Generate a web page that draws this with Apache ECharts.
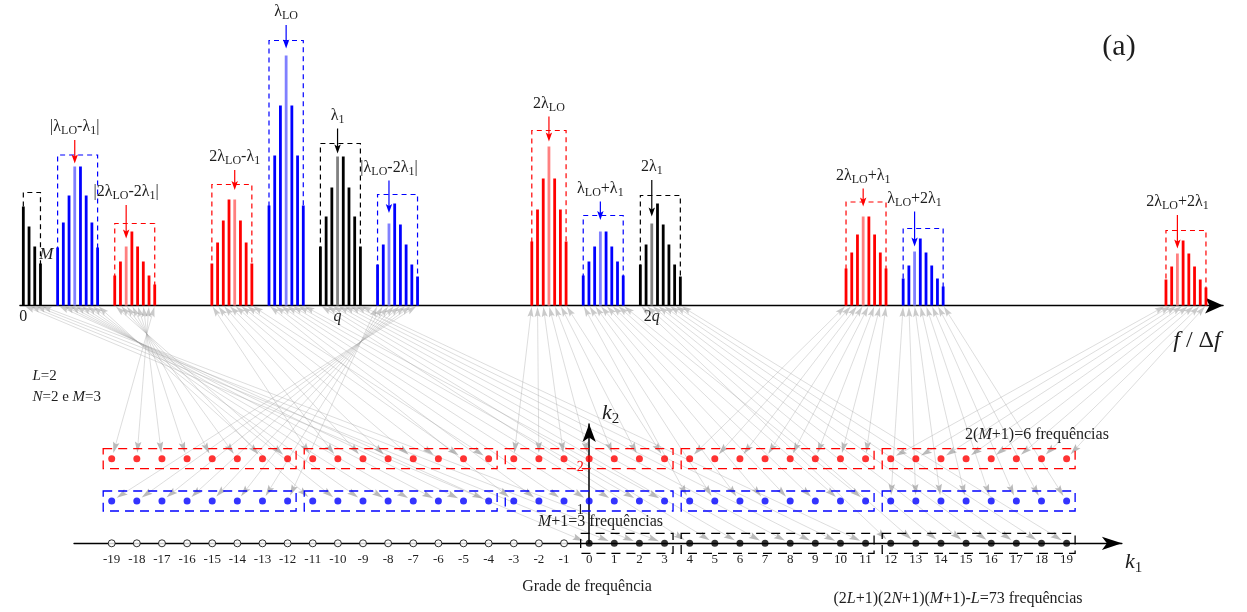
<!DOCTYPE html>
<html>
<head>
<meta charset="utf-8">
<script src="https://cdn.jsdelivr.net/npm/echarts@6.0.0/dist/echarts.min.js"></script>
<style>
html,body{margin:0;padding:0;background:#ffffff;}
#chart{width:1247px;height:612px;}
</style>
</head>
<body>
<div id="chart"></div>
<script>
// ================= DATA =================
// spectral clusters (f / Δf index of first line, labelled line, heights)
const clusterLabels = ['', '|λ{s|LO}-λ{s|1}|', '|2λ{s|LO}-2λ{s|1}|', '2λ{s|LO}-λ{s|1}', 'λ{s|LO}', 'λ{s|1}',
  '|λ{s|LO}-2λ{s|1}|', '2λ{s|LO}', 'λ{s|LO}+λ{s|1}', '2λ{s|1}', '2λ{s|LO}+λ{s|1}', 'λ{s|LO}+2λ{s|1}', '2λ{s|LO}+2λ{s|1}'];
const clusterStart  = [0, 6, 16, 33, 43, 52, 62, 89, 98, 108, 144, 154, 200];
const clusterCenter = [null, 9, 18, 37, 46, 55, 64, 92, 101, 110, 147, 156, 202];

const hDC    = [99, 79, 59, 42];
const hLoM1  = [58, 83, 110, 139, 139, 110, 83, 58];
const h2LoM2 = [30, 44, 59, 74, 59, 44, 30, 21];
const h2LoM1 = [42, 63, 85, 106, 106, 85, 63, 42];
const hLo    = [100, 150, 200, 250, 200, 150, 100];
const h1     = [59, 89, 118, 149, 149, 118, 89, 59];
const hLoM2  = [41, 61, 82, 102, 81, 61, 41, 29];
const h2Lo   = [64, 96, 127, 159, 127, 96, 64];
const hLoP1  = [30, 44, 59, 74, 74, 59, 44, 30];
const h2x1   = [41, 61, 82, 102, 81, 61, 41, 29];
const h2LoP1 = [37, 53, 71, 89, 89, 71, 53, 37];
const hLoP2  = [27, 40, 54, 67, 53, 40, 27, 19];
const h2LoP2 = [26, 39, 52, 65, 52, 39, 26, 18];
const clusterHeights = [hDC, hLoM1, h2LoM2, h2LoM1, hLo, h1, hLoM2, h2Lo, hLoP1, h2x1, h2LoP1, hLoP2, h2LoP2];

// dashed envelope top and annotation arrow (tail / tip) in the same height units
const clusterBoxTop = [113, 150.5, 82, 121, 265, 162, 111, 175, 90, 110, 103.5, 77, 75];
const arrowTail = [null, 165.5, 100.5, 135.5, 280.5, 177, 125, 189, 104, 125.5, 117, 94, 90.5];
const arrowTip  = [null, 142, 67, 115.5, 257, 152, 92.5, 164, 85.5, 89, 99, 59, 57];

// mapping onto the frequency grid (k1, k2)
const clusterK2     = [0, 1, 2, 2, 1, 0, 1, 2, 1, 0, 2, 1, 2];
const clusterK1     = [0, -4, -12, -11, -3, 4, -12, -3, 4, 12, 4, 12, 12];
const clusterK1Step = [1, -1, -1, 1, 1, 1, -1, 1, 1, 1, 1, 1, 1];

const k1TickValues = [-19,-18,-17,-16,-15,-14,-13,-12,-11,-10,-9,-8,-7,-6,-5,-4,-3,-2,-1,0,1,2,3,4,5,6,7,8,9,10,11,12,13,14,15,16,17,18,19];
const unusedK1 = [-19,-18,-17,-16,-15,-14,-13,-12,-11,-10,-9,-8,-7,-6,-5,-4,-3,-2,-1];
const specTickValues = [0, 55, 110];
const specTickLabels = ['0', '{i|q}', '2{i|q}'];
const k2TickValues = [1, 2];

// ================= STYLE =================
const FONT = "'Liberation Serif', 'Times New Roman', serif";
const TXT = '#1e1e1e';
const rowColor = ['#000000', '#0000ff', '#ff0000'];
const rowLight = ['#808080', '#8080ff', '#ff8080'];
const arrowColor = [null, '#ff0000', '#ff0000', '#ff0000', '#0000ff', '#000000', '#0000ff', '#ff0000', '#0000ff', '#000000', '#ff0000', '#0000ff', '#ff0000'];

const chart = echarts.init(document.getElementById('chart'), null, {renderer: 'canvas'});

const barData = [];
const pointData = [];
clusterHeights.forEach((hs, c) => {
  const k2 = clusterK2[c];
  hs.forEach((h, i) => {
    const f = clusterStart[c] + i;
    barData.push({value: [f, h], itemStyle: {color: f === clusterCenter[c] ? rowLight[k2] : rowColor[k2]}});
    pointData.push({value: [clusterK1[c] + clusterK1Step[c] * i, k2], itemStyle: {color: rowColor[k2]}});
  });
});
const specBoxData = clusterStart.map((s, c) => [s, s + clusterHeights[c].length - 1, clusterBoxTop[c], c]);
const annData = [];
clusterCenter.forEach((f, c) => { if (f !== null) annData.push([f, arrowTail[c], arrowTip[c], c]); });
const gridBoxData = clusterStart.map((s, c) => {
  const a = clusterK1[c], b = clusterK1[c] + clusterK1Step[c] * (clusterHeights[c].length - 1);
  return [Math.min(a, b), Math.max(a, b), clusterK2[c]];
});

function richSet(size) {
  return {
    s: {fontSize: size * 0.75, lineHeight: size * 0.75, verticalAlign: 'bottom', fontFamily: FONT, fill: TXT, color: TXT},
    i: {fontSize: size, fontStyle: 'italic', fontFamily: FONT, fill: TXT, color: TXT, lineHeight: size * 1.25}
  };
}

const option = {
  animation: false,
  backgroundColor: '#ffffff',
  grid: [
    {left: 19.9, top: 5.5, width: 1203.2, height: 300, containLabel: false, outerBoundsMode: 'none'},
    {left: 74, top: 424, width: 1047.9, height: 119.3, containLabel: false, outerBoundsMode: 'none'}
  ],
  xAxis: [
    {gridIndex: 0, type: 'value', min: -0.6, max: 210, splitLine: {show: false}, axisTick: {show: false},
     axisLine: {show: true, onZero: true, symbol: ['none', 'arrow'], symbolSize: [12, 18], lineStyle: {color: '#000', width: 1.3}},
     axisLabel: {show: true, customValues: specTickValues, formatter: v => specTickLabels[specTickValues.indexOf(v)],
       margin: 3, color: TXT, fontFamily: FONT, fontSize: 16,
       rich: {i: {fontStyle: 'italic', fontFamily: FONT, fontSize: 16, color: TXT}}}},
    {gridIndex: 1, type: 'value', min: -20.5, max: 21.2, splitLine: {show: false}, axisTick: {show: false},
     axisLine: {show: true, onZero: true, symbol: ['none', 'arrow'], symbolSize: [10, 20], lineStyle: {color: '#000', width: 1.3}},
     axisLabel: {show: true, customValues: k1TickValues, formatter: v => String(v), margin: 10, fontSize: 13, fontFamily: FONT, color: TXT}}
  ],
  yAxis: [
    {gridIndex: 0, type: 'value', min: 0, max: 300, show: false},
    {gridIndex: 1, type: 'value', min: 0, max: 2.82, splitLine: {show: false}, axisTick: {show: false},
     axisLine: {show: true, onZero: true, symbol: ['none', 'arrow'], symbolSize: [10, 18], lineStyle: {color: '#000', width: 1.5}},
     axisLabel: {show: false}}
  ],
  series: [
    {type: 'custom', name: 'envelopes', xAxisIndex: 0, yAxisIndex: 0, clip: false, silent: true, z: 2, data: specBoxData,
     renderItem: (params, api) => {
       const a = api.coord([api.value(0), 0]);
       const b = api.coord([api.value(1), api.value(2)]);
       return {type: 'polyline', shape: {points: [[a[0], a[1]], [a[0], b[1]], [b[0], b[1]], [b[0], a[1]]]},
         style: {stroke: rowColor[clusterK2[api.value(3)]], fill: null, lineWidth: 1.2, lineDash: [5, 4]}};
     }},
    {type: 'bar', name: 'spectrum', xAxisIndex: 0, yAxisIndex: 0, barWidth: 2.8, data: barData, z: 3, silent: true},
    {type: 'custom', name: 'annotations', xAxisIndex: 0, yAxisIndex: 0, clip: false, silent: true, z: 4, data: annData,
     renderItem: (params, api) => {
       const c = api.value(3);
       const t = api.coord([api.value(0), api.value(1)]);
       const p = api.coord([api.value(0), api.value(2)]);
       const col = arrowColor[c];
       return {type: 'group', children: [
         {type: 'line', shape: {x1: t[0], y1: t[1], x2: p[0], y2: p[1] - 6}, style: {stroke: col, lineWidth: 1.2}},
         {type: 'polygon', shape: {points: [[p[0], p[1]], [p[0] - 3.2, p[1] - 9], [p[0], p[1] - 7], [p[0] + 3.2, p[1] - 9]]}, style: {fill: col}},
         {type: 'text', x: t[0], y: t[1] - 13, style: {text: clusterLabels[c], fontSize: 16, fontFamily: FONT, lineHeight: 20,
           fill: TXT, align: 'center', verticalAlign: 'middle', rich: richSet(16)}}
       ]};
     }},
    {type: 'custom', name: 'gridBoxes', xAxisIndex: 1, yAxisIndex: 1, clip: false, silent: true, z: 2, data: gridBoxData,
     renderItem: (params, api) => {
       const a = api.coord([api.value(0), api.value(2)]);
       const b = api.coord([api.value(1), api.value(2)]);
       return {type: 'rect', shape: {x: a[0] - 8.5, y: a[1] - 10, width: b[0] - a[0] + 17, height: 20},
         style: {stroke: rowColor[api.value(2)], fill: null, lineWidth: 1.3, lineDash: [9, 6]}};
     }},
    {type: 'custom', name: 'k2Ticks', xAxisIndex: 1, yAxisIndex: 1, clip: false, silent: true, z: 6,
     data: k2TickValues.map(v => [0, v]),
     renderItem: (params, api) => {
       const p = api.coord([api.value(0), api.value(1)]);
       const v = api.value(1);
       return {type: 'text', x: p[0] - 9, y: p[1] + 9,
         style: {text: String(v), fontSize: 14, fontFamily: FONT, fill: v === 2 ? '#ff0000' : TXT, align: 'center', verticalAlign: 'middle'}};
     }},
    {type: 'scatter', name: 'grid', xAxisIndex: 1, yAxisIndex: 1, symbol: 'circle', symbolSize: 7, data: pointData, z: 5, silent: true},
    {type: 'scatter', name: 'unused', xAxisIndex: 1, yAxisIndex: 1, symbol: 'circle', symbolSize: 7, z: 5, silent: true,
     itemStyle: {color: '#ffffff', borderColor: '#000000', borderWidth: 1},
     data: unusedK1.map(k => [k, 0])}
  ]
};
chart.setOption(option);

// ------- connecting arrows (spectrum line -> grid point) -------
function head(tip, u, len, w, fill) {
  const bx = tip[0] - u[0] * len, by = tip[1] - u[1] * len;
  const nx = -u[1], ny = u[0];
  return {type: 'polygon', z: 1, silent: true,
    shape: {points: [[tip[0], tip[1]], [bx + nx * w / 2, by + ny * w / 2], [tip[0] - u[0] * len * 0.82, tip[1] - u[1] * len * 0.82], [bx - nx * w / 2, by - ny * w / 2]]},
    style: {fill: fill}};
}
const els = [];
clusterHeights.forEach((hs, c) => {
  hs.forEach((h, i) => {
    const f = clusterStart[c] + i;
    const k1 = clusterK1[c] + clusterK1Step[c] * i;
    const k2 = clusterK2[c];
    const a = chart.convertToPixel({gridIndex: 0}, [f, 0]);
    const b = chart.convertToPixel({gridIndex: 1}, [k1, k2]);
    const dx = b[0] - a[0], dy = b[1] - a[1], L = Math.hypot(dx, dy);
    const u = [dx / L, dy / L];
    const tA = [a[0] + u[0] * 1.5, a[1] + u[1] * 1.5];
    const tB = [b[0] - u[0] * 6, b[1] - u[1] * 6];
    els.push({type: 'line', z: 0, silent: true,
      shape: {x1: tA[0] + u[0] * 8, y1: tA[1] + u[1] * 8, x2: tB[0] - u[0] * 9, y2: tB[1] - u[1] * 9},
      style: {stroke: 'rgba(160,160,160,0.45)', lineWidth: 0.8}});
    els.push(head(tA, [-u[0], -u[1]], 10, 6, 'rgba(150,150,150,0.5)'));
    els.push(head(tB, u, 11, 6.5, 'rgba(140,140,140,0.6)'));
  });
});

function txt(text, x, y, size, align, extraRich) {
  const rich = Object.assign(richSet(size), extraRich || {});
  return {type: 'text', z: 10, silent: true, x: x, y: y,
    style: {text: text, fontSize: size, fontFamily: FONT, fill: TXT, align: align, verticalAlign: 'middle', lineHeight: size * 1.25, rich: rich}};
}
els.push(txt('(a)', 1119, 47, 30, 'center'));
els.push(txt('{i|f} / Δ{i|f}', 1197, 341, 24, 'center'));
els.push(txt('{i|L}=2', 32.5, 376, 15, 'left'));
els.push(txt('{i|N}=2 e {i|M}=3', 32.5, 397, 15, 'left'));
els.push(txt('{i|M}', 46.3, 255, 17, 'center'));
els.push(txt('{i|M}+1=3 frequências', 600.5, 522, 16, 'center'));
els.push(txt('2({i|M}+1)=6 frequências', 1037, 435, 16, 'center'));
els.push(txt('Grade de frequência', 587, 587, 16, 'center'));
els.push(txt('(2{i|L}+1)(2{i|N}+1)({i|M}+1)-{i|L}=73 frequências', 958, 599, 16, 'center'));
els.push(txt('{i|k}{n|1}', 1125, 562, 22, 'left', {n: {fontSize: 15, lineHeight: 15, verticalAlign: 'bottom', fontFamily: FONT, fill: TXT}}));
els.push(txt('{i|k}{n|2}', 602, 413, 22, 'left', {n: {fontSize: 15, lineHeight: 15, verticalAlign: 'bottom', fontFamily: FONT, fill: TXT}}));

chart.setOption({graphic: {elements: els}});
</script>
</body>
</html>
